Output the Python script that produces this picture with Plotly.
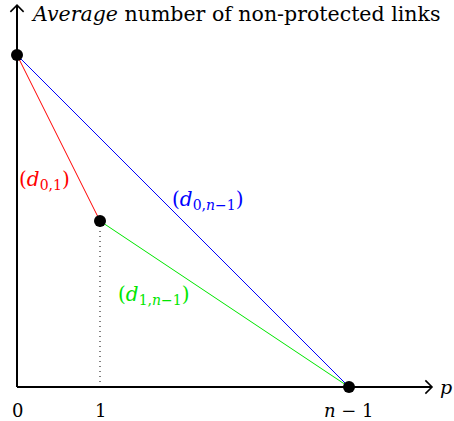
import plotly.graph_objects as go

# Data
p_values = [0, 1, 4]          # positions of 0, 1, n-1 on the p axis
links_values = [4, 2, 0]      # average number of non-protected links
tick_labels = ["0", "1", "<i>n</i> − 1"]
segment_names = ["(<i>d</i><sub>0,1</sub>)", "(<i>d</i><sub>0,<i>n</i>−1</sub>)", "(<i>d</i><sub>1,<i>n</i>−1</sub>)"]
segment_pairs = [(0, 1), (0, 2), (1, 2)]
segment_colors = ["#ff0000", "#0000ff", "#00e600"]
x_axis_end = 5.0
y_axis_end = 4.6

FONT = "DejaVu Serif"
W, H = 454, 421
OX, OY, U = 17, 387, 83.0
fig = go.Figure()

for (a, b), col in zip(segment_pairs, segment_colors):
    fig.add_trace(go.Scatter(x=[p_values[a], p_values[b]], y=[links_values[a], links_values[b]],
                             mode="lines", line=dict(color=col, width=1), hoverinfo="skip"))

fig.add_trace(go.Scatter(x=[p_values[1], p_values[1]], y=[links_values[1], 0], mode="lines",
                         line=dict(color="black", width=1, dash="1px,4px"), hoverinfo="skip"))

fig.add_trace(go.Scatter(x=[0, x_axis_end], y=[0, 0], mode="lines", line=dict(color="black", width=2), hoverinfo="skip"))
fig.add_trace(go.Scatter(x=[0, 0], y=[0, y_axis_end], mode="lines", line=dict(color="black", width=2), hoverinfo="skip"))
ah = 0.08
fig.add_trace(go.Scatter(x=[x_axis_end - ah, x_axis_end, x_axis_end - ah], y=[ah, 0, -ah], mode="lines",
                         line=dict(color="black", width=1.6), hoverinfo="skip"))
fig.add_trace(go.Scatter(x=[-ah, 0, ah], y=[y_axis_end - ah, y_axis_end, y_axis_end - ah], mode="lines",
                         line=dict(color="black", width=1.6), hoverinfo="skip"))

fig.add_trace(go.Scatter(x=p_values, y=links_values, mode="markers",
                         marker=dict(color="black", size=12), hoverinfo="skip"))

annotations = []
for xv, t in zip(p_values, tick_labels):
    annotations.append(dict(x=xv, y=-0.28, text=t, showarrow=False, xanchor="center", yanchor="middle",
                            font=dict(family=FONT, size=18, color="black")))
annotations.append(dict(x=5.07, y=0, text="<i>p</i>", showarrow=False, xanchor="left", yanchor="middle",
                        font=dict(family=FONT, size=19, color="black")))
annotations.append(dict(x=0.15, y=4.5, text="<i>Average</i> number of non-protected links", showarrow=False,
                        xanchor="left", yanchor="middle", font=dict(family=FONT, size=20.5, color="black")))
label_pos = [(0.337, 2.49), (2.30, 2.25), (1.65, 1.11)]
for (lx, ly), name, col in zip(label_pos, segment_names, segment_colors):
    annotations.append(dict(x=lx, y=ly, text=name, showarrow=False, xanchor="center", yanchor="middle",
                            font=dict(family=FONT, size=20, color=col)))

fig.update_layout(
    width=W, height=H, margin=dict(l=0, r=0, t=0, b=0),
    paper_bgcolor="white", plot_bgcolor="white", showlegend=False,
    xaxis=dict(range=[-OX / U, (W - OX) / U], visible=False, fixedrange=True),
    yaxis=dict(range=[-(H - OY) / U, OY / U], visible=False, fixedrange=True),
    annotations=annotations,
)
fig.write_html("out.html", config={"displayModeBar": False},
               post_script="document.body.style.margin='0';document.body.style.overflow='hidden';")
